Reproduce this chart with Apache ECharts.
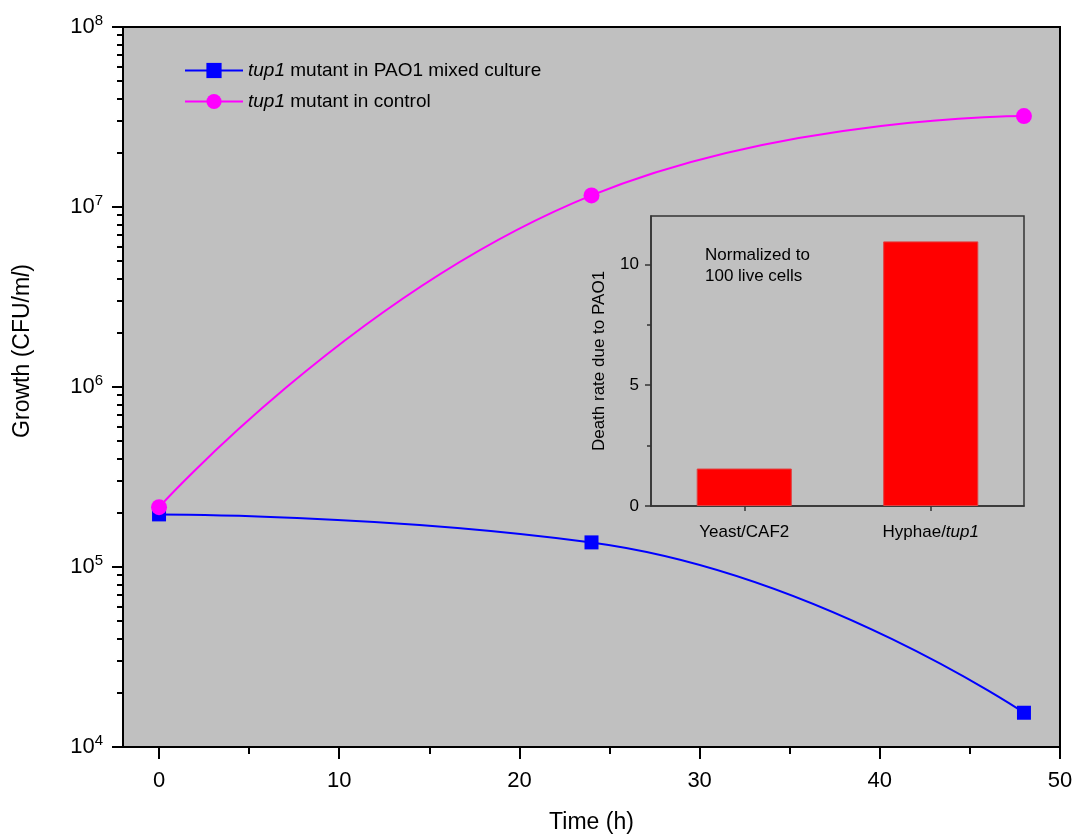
<!DOCTYPE html>
<html><head><meta charset="utf-8">
<script src="https://cdn.jsdelivr.net/npm/echarts@6/dist/echarts.min.js"></script>
<style>html,body{margin:0;padding:0;background:#fff}#c{width:1078px;height:834px}</style>
</head><body><div id="c"></div>
<script>
// Main chart data
const timeHours = [0, 24, 48];
const mixedCulture = [1.96e5, 1.37e5, 1.55e4];   // tup1 mutant in PAO1 mixed culture
const controlCulture = [2.15e5, 1.16e7, 3.2e7];  // tup1 mutant in control
const xMajorTicks = [0, 10, 20, 30, 40, 50];
const xMinorTicks = [5, 15, 25, 35, 45];
// Inset data
const insetCategories = ['Yeast/CAF2', 'Hyphae/tup1'];
const deathRate = [1.55, 10.95];
const insetMajorTicks = [0, 5, 10];
const insetMinorTicks = [2.5, 7.5];

const FONT = '"Liberation Sans", Arial, sans-serif';
const chart = echarts.init(document.getElementById('c'), null, {renderer: 'canvas'});

const option = {
  animation: false,
  backgroundColor: '#ffffff',
  textStyle: {fontFamily: FONT, color: '#000'},
  grid: [
    {left: 123, top: 27, right: 18, bottom: 87, outerBoundsMode: 'none', containLabel: false, show: true, backgroundColor: '#C0C0C0', borderColor: '#000', borderWidth: 2},
    {left: 651, top: 216, right: 54, bottom: 328, outerBoundsMode: 'none', containLabel: false, show: true, backgroundColor: 'transparent', borderColor: '#333', borderWidth: 1.5}
  ],
  legend: {
    left: 179, top: 56, orient: 'vertical', itemGap: 12, itemWidth: 58, itemHeight: 19,
    data: ['mixed', 'control'],
    formatter: function (n) { return n === 'mixed' ? '{i|tup1} mutant in PAO1 mixed culture' : '{i|tup1} mutant in control'; },
    textStyle: {fontFamily: FONT, fontSize: 19, color: '#000', rich: {i: {fontStyle: 'italic', fontSize: 19, fontFamily: FONT}}}
  },
  graphic: [
    {
      type: 'text', left: 705, top: 245,
      style: {text: 'Normalized to\n100 live cells', font: '17px ' + FONT, fill: '#000', lineHeight: 21}
    },
    {
      type: 'text', x: 23, y: 351, rotation: Math.PI / 2,
      style: {
        text: 'Growth (CFU/m{i|l})', font: '23px ' + FONT, fill: '#000', align: 'center', verticalAlign: 'middle',
        rich: {i: {fontStyle: 'italic', fontSize: 23, fontFamily: FONT, fill: '#000'}}
      }
    }
  ],
  xAxis: [
    {
      type: 'value', gridIndex: 0, min: -2, max: 50,
      name: 'Time (h)', nameLocation: 'middle', nameGap: 64,
      nameTextStyle: {fontSize: 23, fontFamily: FONT, color: '#000'},
      axisLine: {show: true, onZero: false, lineStyle: {color: '#000', width: 2}},
      axisTick: {show: true, inside: false, length: 12, lineStyle: {color: '#000', width: 2}, customValues: xMajorTicks},
      axisLabel: {fontSize: 22, color: '#000', margin: 23, customValues: xMajorTicks},
      splitLine: {show: false}
    },
    {
      type: 'value', gridIndex: 0, min: -2, max: 50, position: 'bottom',
      axisLine: {show: false, onZero: false},
      axisTick: {show: true, length: 7, lineStyle: {color: '#000', width: 2}, customValues: xMinorTicks},
      axisLabel: {show: false, customValues: xMinorTicks},
      splitLine: {show: false}
    },
    {
      type: 'category', gridIndex: 1, data: insetCategories,
      axisLine: {show: true, onZero: false, lineStyle: {color: '#333', width: 1.5}},
      axisTick: {show: true, alignWithLabel: true, length: 5, lineStyle: {color: '#333', width: 1.5}},
      axisLabel: {
        fontSize: 17, color: '#000', margin: 18,
        formatter: function (v) { return v === 'Hyphae/tup1' ? 'Hyphae/{i|tup1}' : v; },
        rich: {i: {fontStyle: 'italic', fontSize: 17, fontFamily: FONT}}
      }
    }
  ],
  yAxis: [
    {
      type: 'log', gridIndex: 0, min: 1e4, max: 1e8, logBase: 10,
      axisLine: {show: true, onZero: false, lineStyle: {color: '#000', width: 2}},
      axisTick: {show: true, length: 11, lineStyle: {color: '#000', width: 2}},
      minorTick: {show: true, splitNumber: 9, length: 6, lineStyle: {color: '#000', width: 2}},
      axisLabel: {
        margin: 20, color: '#000',
        formatter: function (v) { return '{b|10}{s|' + Math.round(Math.log10(v)) + '}'; },
        rich: {
          b: {fontSize: 22, fontFamily: FONT, color: '#000'},
          s: {fontSize: 15, fontFamily: FONT, color: '#000', verticalAlign: 'top', padding: [0, 0, 13, 0]}
        }
      },
      splitLine: {show: false}
    },
    {
      type: 'value', gridIndex: 1, min: 0, max: 12,
      name: 'Death rate due to PAO1', nameLocation: 'middle', nameGap: 43,
      nameTextStyle: {fontSize: 17, fontFamily: FONT, color: '#000'},
      axisLine: {show: true, onZero: false, lineStyle: {color: '#333', width: 1.5}},
      axisTick: {show: true, length: 6, lineStyle: {color: '#333', width: 1.5}, customValues: insetMajorTicks},
      axisLabel: {fontSize: 17, color: '#000', margin: 12, customValues: insetMajorTicks},
      splitLine: {show: false}
    },
    {
      type: 'value', gridIndex: 1, min: 0, max: 12, position: 'left',
      axisLine: {show: false, onZero: false},
      axisTick: {show: true, length: 4, lineStyle: {color: '#333', width: 1.5}, customValues: insetMinorTicks},
      axisLabel: {show: false, customValues: insetMinorTicks},
      splitLine: {show: false}
    }
  ],
  series: [
    {
      name: 'mixed', type: 'line', xAxisIndex: 0, yAxisIndex: 0,
      data: timeHours.map((t, i) => [t, mixedCulture[i]]),
      smooth: 0.5, symbol: 'rect', symbolSize: 14,
      lineStyle: {color: '#0000FF', width: 2}, itemStyle: {color: '#0000FF'}, z: 3
    },
    {
      name: 'control', type: 'line', xAxisIndex: 0, yAxisIndex: 0,
      data: timeHours.map((t, i) => [t, controlCulture[i]]),
      smooth: 0.5, symbol: 'circle', symbolSize: 16,
      lineStyle: {color: '#FF00FF', width: 2}, itemStyle: {color: '#FF00FF'}, z: 4
    },
    {
      name: 'death', type: 'bar', xAxisIndex: 2, yAxisIndex: 1,
      data: deathRate, barWidth: '51%',
      itemStyle: {color: '#FF0000', borderColor: '#E04040', borderWidth: 1}
    }
  ]
};
chart.setOption(option);
</script>
</body></html>
